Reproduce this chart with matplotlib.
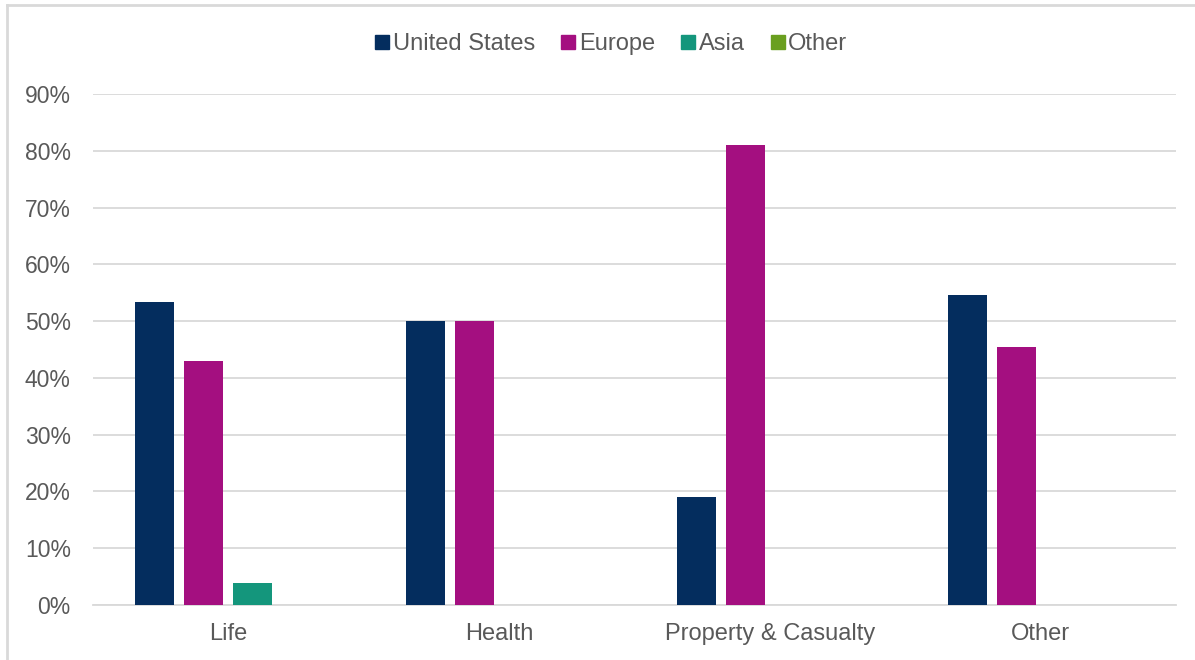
import numpy as np
import matplotlib.pyplot as plt
from matplotlib.lines import Line2D
from matplotlib.ticker import PercentFormatter

# ---------------------------------------------------------------------------- #
#                                     DATA                                     #
# ---------------------------------------------------------------------------- #
categories = ["Life", "Health", "Property & Casualty", "Other"]
series_names = ["United States", "Europe", "Asia", "Other"]

united_states = [53.3, 50.0, 19.0, 54.6]
europe = [42.9, 50.0, 81.0, 45.4]
asia = [3.9, 0.0, 0.0, 0.0]
other = [0.0, 0.0, 0.0, 0.0]

y_ticks = [0, 10, 20, 30, 40, 50, 60, 70, 80, 90]

# ---------------------------------------------------------------------------- #
#                                    STYLE                                     #
# ---------------------------------------------------------------------------- #
COLORS = ["#042D5E", "#A40F80", "#14967C", "#6A9F1F"]
TEXT = "#595959"
GRID = "#D9D9D9"

plt.rcParams["font.family"] = ["Liberation Sans", "DejaVu Sans"]

BAR_W = 0.144
STEP = 0.181


def main():
    fig = plt.figure(figsize=(11.95, 6.6), dpi=100)
    ax = fig.add_axes([93 / 1195, 55 / 660, (1176 - 93) / 1195, (605 - 94) / 660])

    x = np.arange(len(categories))
    all_series = [united_states, europe, asia, other]
    handles = []
    for i, (name, vals) in enumerate(zip(series_names, all_series)):
        offset = (i - 1.5) * STEP
        ax.bar(x + offset, vals, width=BAR_W, color=COLORS[i], zorder=3)
        handles.append(Line2D([], [], marker="s", linestyle="none",
                              markersize=9.5, color=COLORS[i], label=name))

    ax.set_xlim(-0.5, len(categories) - 0.5)
    ax.set_ylim(0, 90)
    ax.set_yticks(y_ticks)
    ax.yaxis.set_major_formatter(PercentFormatter(decimals=0))
    ax.set_xticks(x)
    ax.set_xticklabels(categories)

    ax.grid(axis="y", color=GRID, linewidth=1.3, zorder=0)
    for side in ["top", "right", "left"]:
        ax.spines[side].set_visible(False)
    ax.spines["bottom"].set_color(GRID)
    ax.spines["bottom"].set_linewidth(1.3)
    ax.tick_params(axis="both", length=0, colors=TEXT)
    ax.tick_params(axis="y", pad=16, labelsize=16.5)
    ax.tick_params(axis="x", pad=13, labelsize=17)

    fig.legend(handles=handles, loc="center", bbox_to_anchor=(610 / 1195, 1 - 44 / 660),
               ncol=4, frameon=False, fontsize=17, labelcolor=TEXT,
               handletextpad=0.05, columnspacing=1.0, handlelength=0.8)

    # chart border (top and left edges only visible)
    fig.add_artist(Line2D([7 / 1195, 7 / 1195], [0, 1 - 5 / 660],
                          transform=fig.transFigure, color=GRID, linewidth=2))
    fig.add_artist(Line2D([7 / 1195, 1], [1 - 5 / 660, 1 - 5 / 660],
                          transform=fig.transFigure, color=GRID, linewidth=2))

    fig.savefig("out.png", dpi=100)


if __name__ == "__main__":
    main()
